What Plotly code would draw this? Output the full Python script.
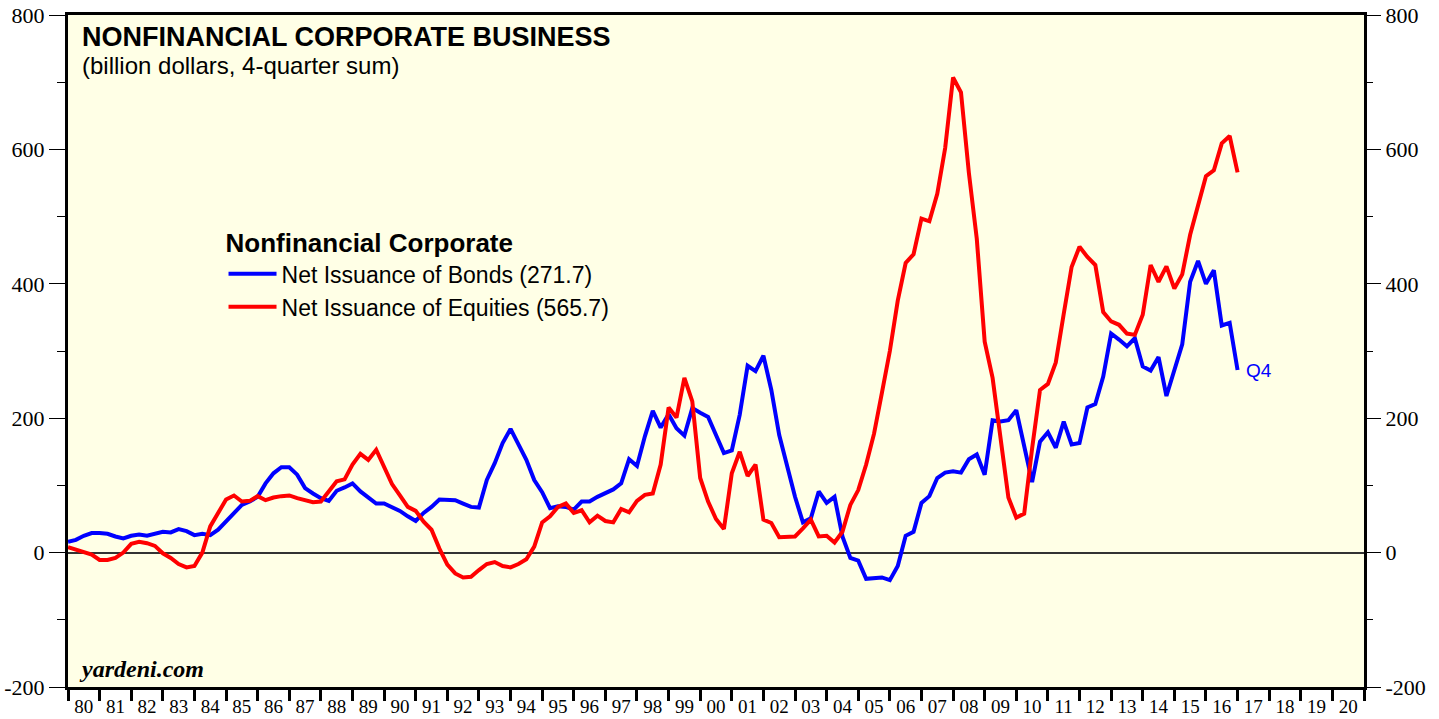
import pandas as pd
import plotly.graph_objects as go

# quarterly, 1979Q4 .. 2016Q4, billion dollars, 4-quarter sum
quarters = pd.period_range("1979Q4", "2016Q4", freq="Q")

bonds = [
    16, 19, 25, 29, 29, 28, 24, 21, 25, 27,
    25, 28, 31, 30, 35, 32, 26, 28, 26, 34,
    46, 57, 71, 76, 83, 103, 118, 127, 127, 116,
    96, 88, 81, 77, 92, 97, 103, 91, 82, 73,
    73, 67, 62, 54, 47, 59, 68, 79, 78, 78,
    73, 68, 67, 108, 133, 163, 184, 160, 138, 108,
    90, 66, 69, 68, 64, 76, 76, 83, 89, 94,
    103, 139, 129, 173, 211, 186, 206, 185, 174, 215,
    208, 202, 175, 148, 152, 205, 278, 270, 293, 242,
    175, 126, 83, 45, 51, 91, 74, 83, 24, -8,
    -12, -39, -38, -37, -41, -20, 25, 31, 74, 84,
    111, 119, 121, 119, 139, 146, 116, 197, 195, 197,
    212, 157, 105, 165, 179, 156, 195, 161, 163, 216,
    221, 262, 326, 317, 307, 319, 277, 271, 291, 233,
    272, 310, 403, 434, 400, 420, 338, 342, 271.7,
]

equities = [
    8, 4, 0, -3, -11, -11, -8, 0, 13, 16,
    14, 10, -1, -8, -17, -22, -20, 0, 39, 59,
    79, 85, 76, 77, 84, 78, 82, 84, 85, 81,
    78, 75, 76, 91, 106, 109, 131, 147, 138, 153,
    126, 102, 85, 68, 62, 46, 34, 6, -18, -31,
    -37, -36, -26, -17, -14, -20, -22, -17, -10, 9,
    45, 54, 68, 73, 59, 63, 45, 55, 47, 45,
    65, 60, 77, 86, 88, 131, 216, 201, 260, 225,
    111, 76, 50, 35, 118, 150, 114, 131, 49, 44,
    23, 24, 24, 36, 49, 24, 25, 15, 31, 71,
    93, 131, 177, 238, 300, 375, 431, 444, 497, 493,
    534, 602, 707, 685, 565, 467, 314, 260, 175, 82,
    52, 58, 155, 242, 251, 283, 355, 425, 455, 440,
    428, 358, 344, 339, 326, 324, 354, 428, 403, 426,
    393, 414, 473, 516, 560, 569, 609, 620, 565.7,
]

years = list(range(1980, 2021))
year_labels = [f"{y % 100:02d}" for y in years]
y_ticks = [-200, 0, 200, 400, 600, 800]
y_minor = [-100, 100, 300, 500, 700]

t = [p.year + p.quarter / 4 for p in quarters]

fig = go.Figure()
fig.add_trace(go.Scatter(
    x=t, y=bonds, mode="lines", name="Net Issuance of Bonds (271.7)",
    line=dict(color="#0000ff", width=4), yaxis="y",
))
fig.add_trace(go.Scatter(
    x=t, y=equities, mode="lines", name="Net Issuance of Equities (565.7)",
    line=dict(color="#ff0000", width=4), yaxis="y2",
))

yaxis_common = dict(
    range=[-200, 800],
    tickmode="array",
    tickvals=y_ticks,
    ticktext=[str(v) for v in y_ticks],
    ticks="outside", ticklen=16, tickwidth=1, tickcolor="black",
    minor=dict(tickvals=y_minor, ticks="outside", ticklen=8, tickwidth=1, tickcolor="black"),
    showgrid=False,
    tickfont=dict(family="Liberation Serif", size=22, color="black"),
    automargin=False,
    fixedrange=True,
)

fig.update_layout(
    width=1439, height=719,
    margin=dict(l=68, r=75, t=15, b=32),
    paper_bgcolor="white",
    plot_bgcolor="#ffffe6",
    xaxis=dict(
        range=[1980, 2021],
        tickmode="array",
        tickvals=[y + 0.5 for y in years],
        ticktext=year_labels,
        ticks="",
        minor=dict(tickvals=years + [2021], ticks="outside", ticklen=11, tickwidth=3, tickcolor="black"),
        showline=True, linewidth=3, linecolor="black", mirror=True,
        showgrid=False, zeroline=False,
        tickfont=dict(family="Liberation Serif", size=19, color="black"),
        automargin=False,
        fixedrange=True,
    ),
    yaxis=dict(
        **yaxis_common,
        side="left",
        showline=True, linewidth=3, linecolor="black", mirror=True,
        zeroline=True, zerolinecolor="#333333", zerolinewidth=1.5,
    ),
    yaxis2=dict(
        **yaxis_common,
        side="right", overlaying="y", anchor="x",
        showline=False, zeroline=False,
    ),
    showlegend=True,
    legend=dict(
        x=0.12, y=0.697, xanchor="left", yanchor="top",
        bgcolor="rgba(0,0,0,0)",
        title=dict(text="<b>Nonfinancial Corporate</b>",
                   font=dict(family="Liberation Sans", size=26, color="black")),
        font=dict(family="Liberation Sans", size=23, color="black"),
        itemwidth=48,
    ),
    annotations=[
        dict(xref="paper", yref="paper", x=0.009, y=0.992, xanchor="left", yanchor="top",
             text="<b>NONFINANCIAL CORPORATE BUSINESS</b>", showarrow=False,
             font=dict(family="Liberation Sans", size=27, color="black")),
        dict(xref="paper", yref="paper", x=0.009, y=0.948, xanchor="left", yanchor="top",
             text="(billion dollars, 4-quarter sum)", showarrow=False,
             font=dict(family="Liberation Sans", size=24, color="black")),
        dict(xref="paper", yref="paper", x=0.007, y=0.004, xanchor="left", yanchor="bottom",
             text="<b><i>yardeni.com</i></b>", showarrow=False,
             font=dict(family="Liberation Serif", size=24, color="black")),
        dict(xref="x", yref="y", x=t[-1], y=bonds[-1], xanchor="left", yanchor="middle",
             xshift=6, text="Q4", showarrow=False,
             font=dict(family="Liberation Sans", size=19, color="#0000ff")),
    ],
)

fig.write_html(
    "out.html",
    config={"displayModeBar": False},
    post_script="document.body.style.margin='0px';",
)
